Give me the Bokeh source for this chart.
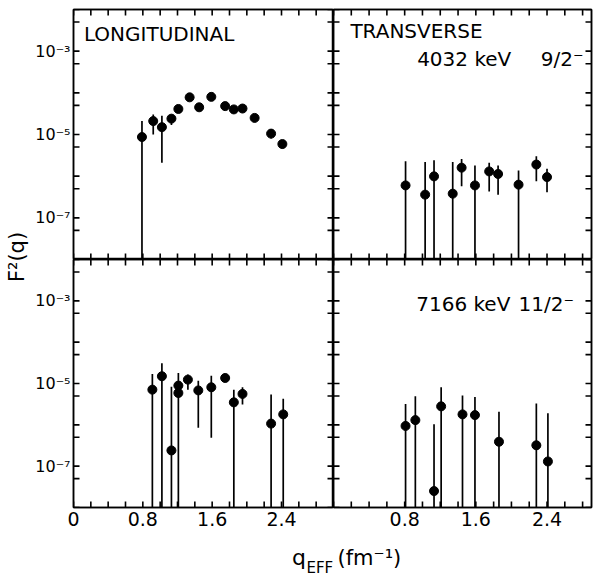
import math
from bokeh.plotting import figure
from bokeh.models import Range1d, FixedTicker, LinearAxis, LogAxis, Label, ColumnDataSource
from bokeh.layouts import row, column
from bokeh.embed import file_html
from bokeh.resources import INLINE

FONT = "DejaVu Sans"
OFF = 1e-9  # lower end of error bar below the axis

# ---- data (q_eff in fm^-1, F^2) ----
L4032_Q = [0.79, 0.92, 1.02, 1.13, 1.21, 1.34, 1.45, 1.59, 1.75, 1.85, 1.95, 2.09, 2.28, 2.41]
L4032_F2 = [8.7e-6, 2.1e-5, 1.5e-5, 2.4e-5, 4.1e-5, 7.8e-5, 4.5e-5, 8.0e-5, 4.8e-5, 4.0e-5, 4.2e-5, 2.5e-5, 1.05e-5, 5.9e-6]
L4032_HI = [2.1e-5, 3.0e-5, 2.8e-5, 3.0e-5, 4.8e-5, 9.0e-5, 5.2e-5, 9.2e-5, 5.5e-5, 4.6e-5, 4.8e-5, 2.9e-5, 1.35e-5, 6.8e-6]
L4032_LO = [OFF, 1.0e-5, 2.1e-6, 1.7e-5, 3.5e-5, 6.8e-5, 3.9e-5, 7.0e-5, 4.2e-5, 3.5e-5, 3.6e-5, 2.1e-5, 8.0e-6, 4.6e-6]

T4032_Q = [0.81, 1.03, 1.13, 1.34, 1.44, 1.59, 1.75, 1.85, 2.08, 2.28, 2.40]
T4032_F2 = [6.0e-7, 3.6e-7, 9.9e-7, 3.8e-7, 1.6e-6, 6.0e-7, 1.3e-6, 1.13e-6, 6.25e-7, 1.9e-6, 9.5e-7]
T4032_HI = [2.27e-6, 2.2e-6, 2.4e-6, 2.2e-6, 2.6e-6, 1.8e-6, 2.1e-6, 1.8e-6, 1.36e-6, 3.0e-6, 1.5e-6]
T4032_LO = [OFF, OFF, OFF, OFF, 5.7e-7, OFF, 4.3e-7, 3.6e-7, OFF, 7.5e-7, 4.1e-7]

L7166_Q = [0.91, 1.02, 1.13, 1.21, 1.21, 1.32, 1.44, 1.59, 1.75, 1.85, 1.95, 2.28, 2.42]
L7166_F2 = [7.1e-6, 1.5e-5, 2.4e-7, 8.9e-6, 5.9e-6, 1.24e-5, 6.8e-6, 8.1e-6, 1.36e-5, 3.5e-6, 5.6e-6, 1.07e-6, 1.79e-6]
L7166_HI = [1.7e-5, 3.1e-5, 8.3e-6, 1.8e-5, 8.9e-6, 1.64e-5, 1.17e-5, 1.55e-5, 1.64e-5, 7.1e-6, 8.1e-6, 5.4e-6, 4.3e-6]
L7166_LO = [OFF, OFF, OFF, 5.9e-6, OFF, 7.1e-6, 8.5e-7, 4.9e-7, 1.1e-5, OFF, 3.1e-6, OFF, OFF]

T7166_Q = [0.81, 0.92, 1.13, 1.21, 1.45, 1.59, 1.86, 2.28, 2.41]
T7166_F2 = [9.4e-7, 1.3e-6, 2.5e-8, 2.8e-6, 1.79e-6, 1.72e-6, 3.9e-7, 3.2e-7, 1.3e-7]
T7166_HI = [3.2e-6, 4.9e-6, 1.03e-6, 8.1e-6, 5.1e-6, 4.7e-6, 2.07e-6, 3.3e-6, 1.9e-6]
T7166_LO = [OFF, OFF, OFF, OFF, OFF, OFF, OFF, OFF, OFF]

# ---- axes ----
Y_MIN, Y_MAX = 1e-8, 1e-2
XL_MAX, XR_MAX = 3.0, 2.9
Y_TICKS = [1e-2, 5e-3, 1e-3, 5e-4, 1e-4, 5e-5, 1e-5, 5e-6, 1e-6, 5e-7, 1e-7, 5e-8, 1e-8]
Y_LABELS = {1e-3: "10⁻³", 1e-5: "10⁻⁵", 1e-7: "10⁻⁷"}
XL_TICKS = [0.0, 0.2, 0.4, 0.6, 0.8, 1.0, 1.2, 1.4, 1.6, 1.8, 2.0, 2.2, 2.4, 2.6, 2.8, 3.0]
XL_LABELS = {0.0: "0", 0.8: "0.8", 1.6: "1.6", 2.4: "2.4"}
XR_TICKS = [0.0, 0.2, 0.4, 0.6, 0.8, 1.0, 1.2, 1.4, 1.6, 1.8, 2.0, 2.2, 2.4, 2.6, 2.8]
XR_LABELS = {0.8: "0.8", 1.6: "1.6", 2.4: "2.4"}
TICK_PX = 6


def style_axis(ax, ticks, labels, show, size, standoff):
    ax.ticker = FixedTicker(ticks=ticks, minor_ticks=[])
    ax.major_tick_in = 0
    ax.major_tick_out = 0
    ax.major_tick_line_color = None
    ax.minor_tick_line_color = None
    ax.axis_line_width = 1.5
    ax.axis_line_color = "black"
    if show:
        ax.major_label_overrides = {t: labels.get(t, "") for t in ticks}
        ax.major_label_text_font = FONT
        ax.major_label_text_font_size = size
        ax.major_label_text_color = "black"
        ax.major_label_standoff = standoff
    else:
        ax.major_label_overrides = {t: "" for t in ticks}
        ax.major_label_text_font_size = "0px"
        ax.major_label_standoff = 0


def inner_ticks(p, xticks, xmax, frame_w, frame_h):
    # tick marks pointing into the frame on all four sides, TICK_PX long (outer half clipped)
    fy = 10 ** (math.log10(Y_MAX / Y_MIN) * TICK_PX / frame_h)
    dx = xmax * TICK_PX / frame_w
    nx, ny = len(xticks), len(Y_TICKS)
    kw = dict(line_color="black", line_width=1.6)
    p.segment(x0=xticks, y0=[Y_MIN / fy] * nx, x1=xticks, y1=[Y_MIN * fy] * nx, **kw)
    p.segment(x0=xticks, y0=[Y_MAX / fy] * nx, x1=xticks, y1=[Y_MAX * fy] * nx, **kw)
    p.segment(x0=[-dx] * ny, y0=Y_TICKS, x1=[dx] * ny, y1=Y_TICKS, **kw)
    p.segment(x0=[xmax - dx] * ny, y0=Y_TICKS, x1=[xmax + dx] * ny, y1=Y_TICKS, **kw)


def panel(w, h, xmax, xticks, xlabels, bl, br, bt, bb, show_x, show_y):
    p = figure(width=w, height=h, x_range=Range1d(0, xmax), y_range=Range1d(Y_MIN, Y_MAX),
               y_axis_type="log", output_backend="svg", toolbar_location=None, title=None,
               min_border=0, min_border_left=bl, min_border_right=br,
               min_border_top=bt, min_border_bottom=bb,
               background_fill_color="white", border_fill_color="white")
    p.xgrid.visible = False
    p.ygrid.visible = False
    p.outline_line_color = "black"
    p.outline_line_width = 1.5
    top = LinearAxis()
    right = LogAxis()
    p.add_layout(top, "above")
    p.add_layout(right, "right")
    style_axis(p.below[0], xticks, xlabels, show_x, "19px", 4)
    style_axis(top, xticks, xlabels, False, "19px", 0)
    style_axis(p.left[0], Y_TICKS, Y_LABELS, show_y, "16px", 3)
    style_axis(right, Y_TICKS, Y_LABELS, False, "16px", 0)
    inner_ticks(p, xticks, xmax, w - bl - br, h - bt - bb)
    return p


def draw(p, q, f2, lo, hi):
    src = ColumnDataSource(dict(q=q, f2=f2, lo=lo, hi=hi))
    p.segment(x0="q", y0="lo", x1="q", y1="hi", source=src, line_color="black", line_width=1.7)
    p.scatter("q", "f2", source=src, size=9, color="black")


def text(p, x, y, s, size="19px"):
    p.add_layout(Label(x=x, y=y, text=s, text_font=FONT, text_font_size=size,
                       text_color="black", text_align="left", text_baseline="alphabetic"))


YLW = 31
tl = panel(302, 259, XL_MAX, XL_TICKS, XL_LABELS, 42, 0, 9, 0, False, True)
tr = panel(264, 259, XR_MAX, XR_TICKS, XR_LABELS, 0, 6, 9, 0, False, False)
bl = panel(302, 273, XL_MAX, XL_TICKS, XL_LABELS, 42, 0, 0, 25, True, True)
br = panel(264, 273, XR_MAX, XR_TICKS, XR_LABELS, 0, 6, 0, 25, True, False)

draw(tl, L4032_Q, L4032_F2, L4032_LO, L4032_HI)
draw(tr, T4032_Q, T4032_F2, T4032_LO, T4032_HI)
draw(bl, L7166_Q, L7166_F2, L7166_LO, L7166_HI)
draw(br, T7166_Q, T7166_F2, T7166_LO, T7166_HI)

text(tl, 0.12, 2.65e-3, "LONGITUDINAL", "20px")
text(tr, 0.19, 3.0e-3, "TRANSVERSE", "20px")
text(tr, 0.94, 6.56e-4, "4032 keV", "20px")
text(tr, 2.33, 6.56e-4, "9/2⁻", "20px")
text(br, 0.93, 8.5e-4, "7166 keV", "20px")
text(br, 2.08, 8.5e-4, "11/2⁻", "20px")

ylab = figure(width=YLW, height=532, x_range=Range1d(0, YLW), y_range=Range1d(0, 532),
              output_backend="svg", toolbar_location=None, title=None, min_border=0,
              x_axis_location=None, y_axis_location=None)
ylab.grid.visible = False
ylab.outline_line_color = None
ylab.add_layout(Label(x=16, y=532 - 256.5, text="F²(q)", angle=math.pi / 2, text_font=FONT,
                      text_font_size="21px", text_align="center", text_baseline="middle",
                      text_color="black"))

xlab = figure(width=597, height=43, x_range=Range1d(0, 597), y_range=Range1d(0, 43),
              output_backend="svg", toolbar_location=None, title=None, min_border=0,
              x_axis_location=None, y_axis_location=None)
xlab.grid.visible = False
xlab.outline_line_color = None
text(xlab, 291.5, 18, "q", "22px")
text(xlab, 306, 8, "EFF", "15px")
text(xlab, 337, 18, "(fm⁻¹)", "21px")

layout = column(row(ylab, column(row(tl, tr), row(bl, br))), xlab)

open("out.html", "w").write(file_html(layout, INLINE))
